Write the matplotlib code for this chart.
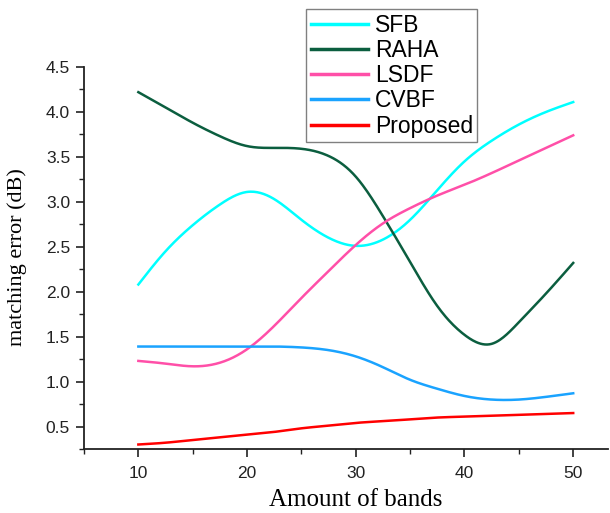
import numpy as np
import matplotlib
matplotlib.use('Agg')
import matplotlib.pyplot as plt
from matplotlib.ticker import MultipleLocator

# x positions (amount of bands) read every 2.5
bands = [10, 12.5, 15, 17.5, 20, 22.5, 25, 27.5, 30, 32.5, 35, 37.5, 40, 42.5, 45, 47.5, 50]

sfb = [2.08, 2.45, 2.74, 2.97, 3.11, 3.03, 2.80, 2.60, 2.51, 2.58, 2.80, 3.13, 3.45, 3.68, 3.86, 4.00, 4.11]
raha = [4.22, 4.05, 3.88, 3.73, 3.62, 3.60, 3.59, 3.51, 3.28, 2.84, 2.33, 1.84, 1.52, 1.42, 1.66, 1.98, 2.32]
lsdf = [1.23, 1.20, 1.17, 1.21, 1.36, 1.62, 1.93, 2.23, 2.52, 2.76, 2.93, 3.07, 3.19, 3.32, 3.46, 3.60, 3.74]
cvbf = [1.39, 1.39, 1.39, 1.39, 1.39, 1.39, 1.38, 1.35, 1.28, 1.16, 1.02, 0.92, 0.84, 0.80, 0.80, 0.83, 0.87]
proposed = [0.30, 0.32, 0.35, 0.38, 0.41, 0.44, 0.48, 0.51, 0.54, 0.56, 0.58, 0.60, 0.61, 0.62, 0.63, 0.64, 0.65]

names = ['SFB', 'RAHA', 'LSDF', 'CVBF', 'Proposed']
colors = ['#00FFFF', '#0B5E3F', '#FF4FA8', '#1AA3FF', '#FF0000']

plt.rcParams['font.family'] = ['Liberation Sans', 'DejaVu Sans']


def smooth(x, y, n=400):
    # natural cubic spline, only for drawing smooth curves
    x = np.asarray(x, float)
    y = np.asarray(y, float)
    h = np.diff(x)
    m = len(x)
    A = np.zeros((m, m))
    b = np.zeros(m)
    A[0, 0] = A[-1, -1] = 1
    for i in range(1, m - 1):
        A[i, i - 1] = h[i - 1]
        A[i, i] = 2 * (h[i - 1] + h[i])
        A[i, i + 1] = h[i]
        b[i] = 3 * ((y[i + 1] - y[i]) / h[i] - (y[i] - y[i - 1]) / h[i - 1])
    c = np.linalg.solve(A, b)
    xs = np.linspace(x[0], x[-1], n)
    idx = np.clip(np.searchsorted(x, xs) - 1, 0, m - 2)
    dx = xs - x[idx]
    bc = (y[1:] - y[:-1]) / h - h * (2 * c[:-1] + c[1:]) / 3
    d = (c[1:] - c[:-1]) / (3 * h)
    ys = y[idx] + bc[idx] * dx + c[idx] * dx ** 2 + d[idx] * dx ** 3
    return xs, ys


fig = plt.figure(figsize=(6.1, 5.13), dpi=100)
ax = fig.add_axes([84 / 610, 1 - 449 / 513, (608 - 84) / 610, (449 - 67) / 513])

for name, col, vals in zip(names, colors, [sfb, raha, lsdf, cvbf, proposed]):
    xs, ys = smooth(bands, vals)
    ax.plot(xs, ys, color=col, lw=1.8, label=name)

ax.set_xlim(5, 53.2)
ax.set_ylim(0.25, 4.5)
ax.set_xticks([10, 20, 30, 40, 50])
ax.xaxis.set_minor_locator(MultipleLocator(5))
ax.set_yticks([0.5, 1.0, 1.5, 2.0, 2.5, 3.0, 3.5, 4.0, 4.5])
ax.yaxis.set_minor_locator(MultipleLocator(0.25))
ax.set_yticklabels(['%.1f' % v for v in ax.get_yticks()])

for s in ['top', 'right']:
    ax.spines[s].set_visible(False)
for s in ['left', 'bottom']:
    ax.spines[s].set_linewidth(1.3)
    ax.spines[s].set_color('#222222')

ax.tick_params(which='major', direction='out', length=6, width=1.2,
               labelsize=12.5, colors='#222222', pad=4)
ax.tick_params(which='minor', direction='out', length=3.5, width=1.0, colors='#222222')
ax.tick_params(axis='x', which='major', pad=6)

# axis titles (serif, as in the original)
fig.text(356 / 610, 1 - 506 / 513, 'Amount of bands', fontsize=18,
         family='Liberation Serif', ha='center', va='baseline')
ax.set_ylabel('matching error (dB)', fontsize=16, family='Liberation Serif')
ax.yaxis.set_label_coords(-(84 - 27) / 524, (449 - 257) / 382)

leg = fig.legend(loc='upper left', bbox_to_anchor=(306 / 610, 1 - 9 / 513),
                 bbox_transform=fig.transFigure, borderaxespad=0,
                 prop={'family': 'Liberation Sans', 'size': 16.5},
                 handlelength=2.5, handletextpad=0.3, labelspacing=0.1,
                 borderpad=0.2, fancybox=False, framealpha=1)
leg.get_frame().set_edgecolor('#808080')
leg.get_frame().set_linewidth(1.0)
for line in leg.get_lines():
    line.set_linewidth(2.5)

fig.savefig('out.png', dpi=100)
